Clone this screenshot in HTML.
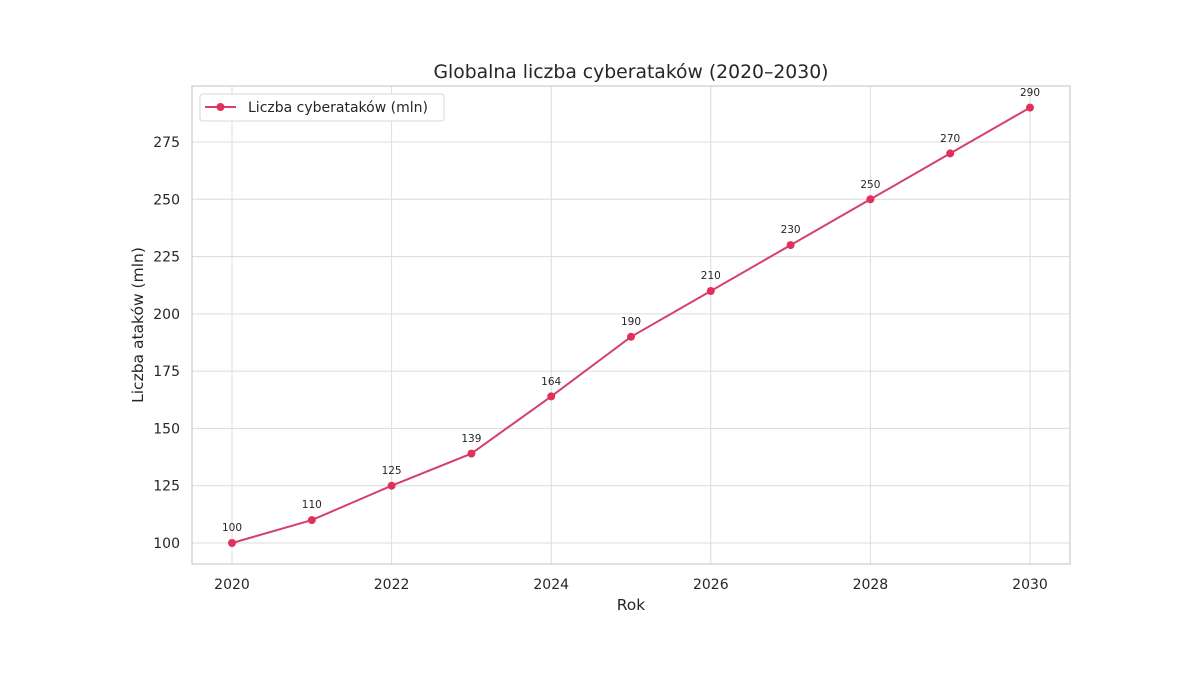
<!DOCTYPE html>
<html><head><meta charset="utf-8"><style>html,body{margin:0;background:#fff}svg{display:block}text{font-family:"DejaVu Sans","Liberation Sans",sans-serif;fill:#262626}</style></head>
<body>
<svg width="1200" height="675" viewBox="0 0 1200 675" xmlns="http://www.w3.org/2000/svg">
<rect width="1200" height="675" fill="#fff"/>
<g stroke="#dcdcdc" stroke-width="1">
<line x1="232" y1="86" x2="232" y2="564"/><line x1="391.6" y1="86" x2="391.6" y2="564"/><line x1="551.2" y1="86" x2="551.2" y2="564"/><line x1="710.8" y1="86" x2="710.8" y2="564"/><line x1="870.4" y1="86" x2="870.4" y2="564"/><line x1="1030" y1="86" x2="1030" y2="564"/>
<line x1="192" y1="543" x2="1070" y2="543"/><line x1="192" y1="485.7" x2="1070" y2="485.7"/><line x1="192" y1="428.4" x2="1070" y2="428.4"/><line x1="192" y1="371.1" x2="1070" y2="371.1"/><line x1="192" y1="313.9" x2="1070" y2="313.9"/><line x1="192" y1="256.6" x2="1070" y2="256.6"/><line x1="192" y1="199.3" x2="1070" y2="199.3"/><line x1="192" y1="142" x2="1070" y2="142"/>
</g>
<rect x="192" y="86" width="878" height="478" fill="none" stroke="#cccccc" stroke-width="1.2"/>
<polyline fill="none" stroke="#d6406a" stroke-width="2" points="232,543 311.8,520.1 391.6,485.7 471.4,453.6 551.2,396.4 631,336.8 710.8,291 790.6,245.1 870.4,199.3 950.2,153.4 1030,107.6"/>
<g fill="#e0305c">
<circle cx="232" cy="543" r="4"/><circle cx="311.8" cy="520.1" r="4"/><circle cx="391.6" cy="485.7" r="4"/><circle cx="471.4" cy="453.6" r="4"/><circle cx="551.2" cy="396.4" r="4"/><circle cx="631" cy="336.8" r="4"/><circle cx="710.8" cy="291" r="4"/><circle cx="790.6" cy="245.1" r="4"/><circle cx="870.4" cy="199.3" r="4"/><circle cx="950.2" cy="153.4" r="4"/><circle cx="1030" cy="107.6" r="4"/>
</g>
<g font-size="10.5" text-anchor="middle">
<text x="232" y="531">100</text><text x="311.8" y="508">110</text><text x="391.6" y="474">125</text><text x="471.4" y="442">139</text><text x="551.2" y="385">164</text><text x="631" y="325">190</text><text x="710.8" y="279">210</text><text x="790.6" y="233">230</text><text x="870.4" y="188">250</text><text x="950.2" y="142">270</text><text x="1030" y="96">290</text>
</g>
<g font-size="14" text-anchor="middle">
<text x="232" y="589">2020</text><text x="391.6" y="589">2022</text><text x="551.2" y="589">2024</text><text x="710.8" y="589">2026</text><text x="870.4" y="589">2028</text><text x="1030" y="589">2030</text>
</g>
<g font-size="14" text-anchor="end">
<text x="180" y="548">100</text><text x="180" y="490.7">125</text><text x="180" y="433.4">150</text><text x="180" y="376.1">175</text><text x="180" y="318.9">200</text><text x="180" y="261.6">225</text><text x="180" y="204.3">250</text><text x="180" y="147">275</text>
</g>
<text x="631" y="610" font-size="15.5" text-anchor="middle">Rok</text>
<text transform="translate(143,325) rotate(-90)" font-size="15.5" text-anchor="middle">Liczba ataków (mln)</text>
<text x="631" y="78" font-size="18.8" text-anchor="middle">Globalna liczba cyberataków (2020–2030)</text>
<rect x="200" y="94" width="244" height="27" rx="3" fill="#fff" stroke="#d8d8d8"/>
<line x1="205" y1="107" x2="236" y2="107" stroke="#d6406a" stroke-width="2"/>
<circle cx="220.5" cy="107" r="4" fill="#e0305c"/>
<text x="248" y="112" font-size="14">Liczba cyberataków (mln)</text>
</svg>
</body></html>
